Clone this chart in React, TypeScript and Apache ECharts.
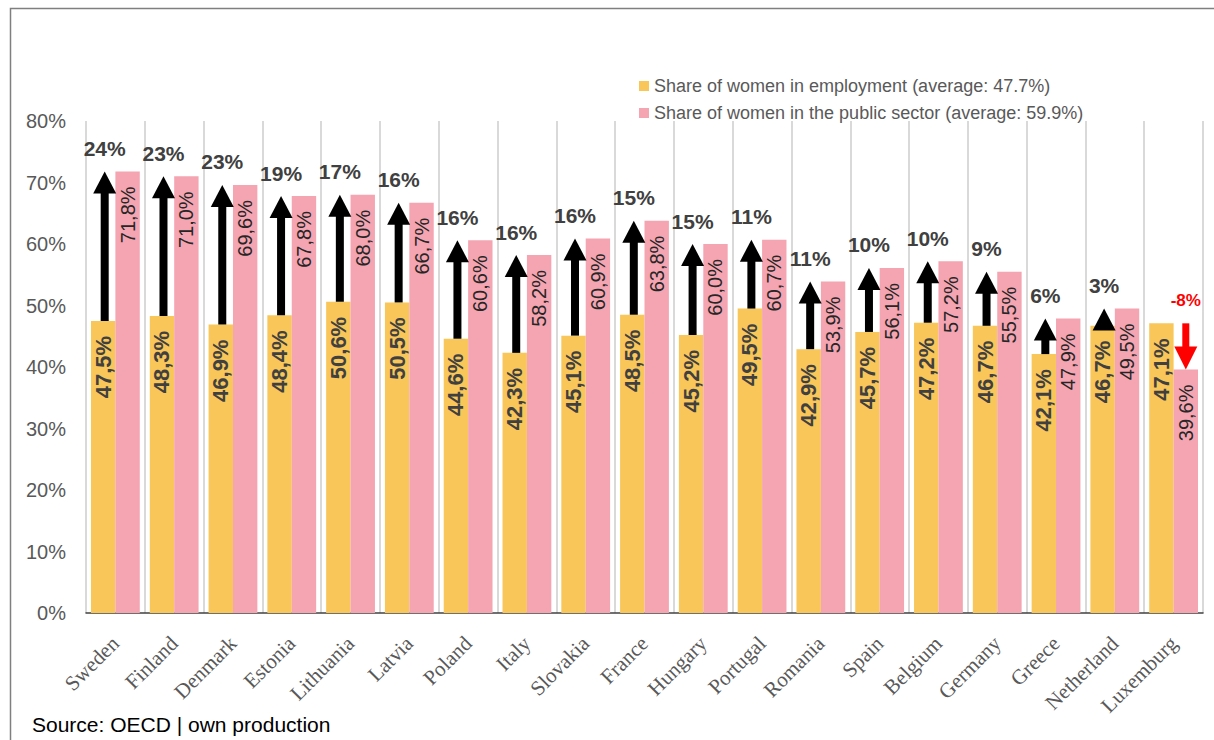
import React, { useEffect, useRef } from "react";
import * as echarts from "echarts";

const countries = [
  "Sweden", "Finland", "Denmark", "Estonia", "Lithuania", "Latvia", "Poland", "Italy",
  "Slovakia", "France", "Hungary", "Portugal", "Romania", "Spain", "Belgium", "Germany",
  "Greece", "Netherland", "Luxemburg",
];
const employment = [
  47.5, 48.3, 46.9, 48.4, 50.6, 50.5, 44.6, 42.3, 45.1, 48.5, 45.2, 49.5, 42.9, 45.7, 47.2,
  46.7, 42.1, 46.7, 47.1,
];
const publicSector = [
  71.8, 71.0, 69.6, 67.8, 68.0, 66.7, 60.6, 58.2, 60.9, 63.8, 60.0, 60.7, 53.9, 56.1, 57.2,
  55.5, 47.9, 49.5, 39.6,
];
const gapLabels = [
  "24%", "23%", "23%", "19%", "17%", "16%", "16%", "16%", "16%", "15%", "15%", "11%", "11%",
  "10%", "10%", "9%", "6%", "3%", "-8%",
];
const yTicks = { min: 0, max: 80, interval: 10 };
const seriesNames = [
  "Share of women in employment (average: 47.7%)",
  "Share of women in the public sector (average: 59.9%)",
];

const YELLOW = "#F8C659";
const PINK = "#F4A5B1";
const CAT_GAP = 0.17;
const SANS = "Arial, 'Liberation Sans', sans-serif";
const SERIF = "'Times New Roman', 'Liberation Serif', serif";

const fmt = (v: number) => v.toFixed(1).replace(".", ",") + "%";

export default function App() {
  const ref = useRef<HTMLDivElement>(null);
  useEffect(() => {
    if (!ref.current) return;
    const chart = echarts.init(ref.current, null, { renderer: "svg" });
    const arrowData = countries.map((_, i) => [i, employment[i], publicSector[i], gapLabels[i]]);
    chart.setOption({
      animation: false,
      backgroundColor: "#ffffff",
      grid: { left: 86, right: 11, top: 121, bottom: 127, containLabel: false },
      legend: {
        data: seriesNames,
        orient: "vertical",
        left: 634,
        top: 71,
        itemWidth: 10,
        itemHeight: 10,
        itemGap: 7,
        icon: "rect",
        textStyle: { fontSize: 18, color: "#595959", fontFamily: SANS, lineHeight: 20 },
      },
      xAxis: {
        type: "category",
        data: countries,
        axisLine: { show: true, lineStyle: { color: "#404040", width: 1.5 } },
        axisTick: { show: false },
        splitLine: { show: true, lineStyle: { color: "#D9D9D9", width: 2 } },
        axisLabel: {
          rotate: 45,
          interval: 0,
          fontSize: 21,
          fontFamily: SERIF,
          color: "#595959",
          margin: 27,
        },
      },
      yAxis: {
        type: "value",
        min: yTicks.min,
        max: yTicks.max,
        interval: yTicks.interval,
        axisLine: { show: false },
        axisTick: { show: false },
        splitLine: { show: false },
        axisLabel: {
          formatter: "{value}%",
          fontSize: 20,
          fontFamily: SANS,
          color: "#595959",
          margin: 20,
        },
      },
      series: [
        {
          name: seriesNames[0],
          type: "bar",
          data: employment,
          barGap: "0%",
          barCategoryGap: CAT_GAP * 100 + "%",
          itemStyle: { color: YELLOW },
          label: {
            show: true,
            position: "insideTop",
            distance: 15,
            rotate: 90,
            align: "right",
            verticalAlign: "middle",
            fontSize: 22,
            fontWeight: "bold",
            fontFamily: SANS,
            color: "#404040",
            formatter: (p: any) => fmt(p.value),
          },
        },
        {
          name: seriesNames[1],
          type: "bar",
          data: publicSector,
          barGap: "0%",
          barCategoryGap: CAT_GAP * 100 + "%",
          itemStyle: { color: PINK },
          label: {
            show: true,
            position: "insideTop",
            distance: 15,
            rotate: 90,
            align: "right",
            verticalAlign: "middle",
            fontSize: 20,
            fontFamily: SANS,
            color: "#262626",
            formatter: (p: any) => fmt(p.value),
          },
        },
        {
          name: "arrows",
          type: "custom",
          data: arrowData,
          encode: { x: 0, y: [1, 2] },
          z: 10,
          silent: true,
          renderItem: (params: any, api: any) => {
            const idx = api.value(0);
            const v1 = api.value(1);
            const v2 = api.value(2);
            const label = gapLabels[idx];
            const c = api.coord([idx, 0]);
            const band = api.size([1, 0])[0];
            const bw = (band * (1 - CAT_GAP)) / 2;
            const up = v2 >= v1;
            const x = up ? c[0] - bw / 2 + 1.5 : c[0] + bw / 2;
            const p1 = api.coord([idx, v1])[1];
            const p2 = api.coord([idx, v2])[1];
            const color = up ? "#000000" : "#FF0000";
            const headH = up ? 22 : 23;
            const headW = 23;
            const shaftW = up ? 8 : 7;
            const children: any[] = [];
            if (up) {
              const shaftTop = p2 + headH;
              if (p1 > shaftTop) {
                children.push({
                  type: "rect",
                  shape: { x: x - shaftW / 2, y: shaftTop - 1, width: shaftW, height: p1 - shaftTop + 1 },
                  style: { fill: color },
                });
              }
              children.push({
                type: "polygon",
                shape: { points: [[x - headW / 2, p2 + headH], [x + headW / 2, p2 + headH], [x, p2]] },
                style: { fill: color },
              });
            } else {
              const shaftBot = p2 - headH;
              if (shaftBot > p1) {
                children.push({
                  type: "rect",
                  shape: { x: x - shaftW / 2, y: p1, width: shaftW, height: shaftBot - p1 + 1 },
                  style: { fill: color },
                });
              }
              children.push({
                type: "polygon",
                shape: { points: [[x - headW / 2, p2 - headH], [x + headW / 2, p2 - headH], [x, p2]] },
                style: { fill: color },
              });
            }
            children.push({
              type: "text",
              x: x,
              y: Math.min(p1, p2) - 23,
              style: {
                text: label,
                fill: up ? "#404040" : "#FF0000",
                font: `bold ${up ? 21 : 17}px ${SANS}`,
                align: "center",
                verticalAlign: "middle",
              },
            });
            return { type: "group", children };
          },
        },
      ],
      graphic: [
        {
          type: "rect",
          left: 8,
          top: 6,
          shape: { width: 1230, height: 760 },
          style: { fill: "none", stroke: "#7F7F7F", lineWidth: 1.5 },
          silent: true,
        },
        {
          type: "text",
          left: 32,
          top: 714,
          style: { text: "Source: OECD | own production", font: `21px ${SANS}`, fill: "#000000" },
        },
      ],
    });
    return () => chart.dispose();
  }, []);
  return (
    <div
      ref={ref}
      style={{ position: "fixed", left: 0, top: 0, width: 1214, height: 740, background: "#fff" }}
    />
  );
}
